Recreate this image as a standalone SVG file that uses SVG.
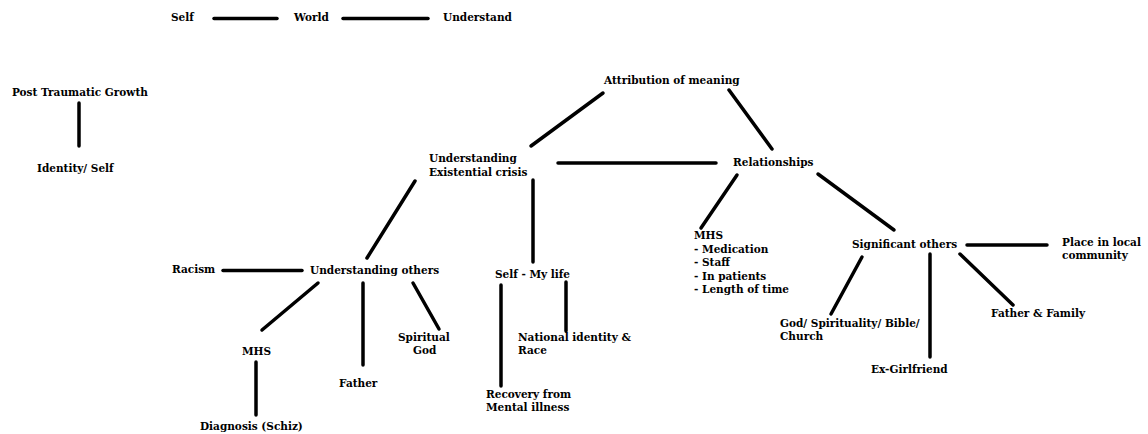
<svg xmlns="http://www.w3.org/2000/svg" width="1148" height="434" viewBox="0 0 1148 434">
<style>
text{font-family:"DejaVu Serif","Liberation Serif",serif;font-weight:bold;font-size:10.5px;fill:#000}
.c line{stroke:#000;stroke-width:3.5;stroke-linecap:round}
</style>
<rect width="1148" height="434" fill="#fff"/>
<g class="c" id="connectors">
<line x1="214" y1="18.5" x2="277" y2="18.5"/>
<line x1="343" y1="18.5" x2="428" y2="18.5"/>
<line x1="79" y1="103" x2="79" y2="146"/>
<line x1="603" y1="93" x2="531" y2="146"/>
<line x1="729" y1="90" x2="772" y2="149"/>
<line x1="558" y1="163" x2="716" y2="163"/>
<line x1="737" y1="175" x2="701" y2="228"/>
<line x1="818" y1="174" x2="894" y2="230"/>
<line x1="967" y1="245" x2="1047" y2="245"/>
<line x1="862" y1="257" x2="831" y2="314"/>
<line x1="930" y1="254" x2="930" y2="357"/>
<line x1="960" y1="254" x2="1013" y2="305"/>
<line x1="415" y1="181" x2="367" y2="258"/>
<line x1="533" y1="180" x2="533" y2="262"/>
<line x1="223" y1="270.5" x2="302" y2="270.5"/>
<line x1="318" y1="283" x2="262" y2="330"/>
<line x1="363" y1="283" x2="363" y2="365"/>
<line x1="413" y1="283" x2="439" y2="329"/>
<line x1="256" y1="362" x2="256" y2="415"/>
<line x1="501" y1="285" x2="501" y2="386"/>
<line x1="566" y1="282" x2="566" y2="331"/>
</g>
<g id="self"><text x="171" y="21">Self</text></g>
<g id="world"><text x="294" y="21">World</text></g>
<g id="understand"><text x="443" y="21">Understand</text></g>
<g id="ptg"><text x="12" y="96">Post Traumatic Growth</text></g>
<g id="identity"><text x="37" y="172">Identity/ Self</text></g>
<g id="attribution"><text x="604" y="84">Attribution of meaning</text></g>
<g id="existential"><text x="429" y="162">Understanding</text><text x="429" y="176">Existential crisis</text></g>
<g id="relationships"><text x="733" y="166">Relationships</text></g>
<g id="mhs2"><text x="694" y="239">MHS</text><text x="694" y="253">- Medication</text><text x="694" y="266">- Staff</text><text x="694" y="280">- In patients</text><text x="694" y="293">- Length of time</text></g>
<g id="significant"><text x="852" y="248">Significant others</text></g>
<g id="place"><text x="1062" y="246">Place in local</text><text x="1062" y="259">community</text></g>
<g id="god2"><text x="780" y="327">God/ Spirituality/ Bible/</text><text x="780" y="340">Church</text></g>
<g id="exgf"><text x="871" y="373">Ex-Girlfriend</text></g>
<g id="fatherfamily"><text x="991" y="317">Father &amp; Family</text></g>
<g id="others"><text x="310" y="274">Understanding others</text></g>
<g id="racism"><text x="172" y="273">Racism</text></g>
<g id="mylife"><text x="495" y="278">Self - My life</text></g>
<g id="mhs1"><text x="242" y="355">MHS</text></g>
<g id="diagnosis"><text x="200" y="430">Diagnosis (Schiz)</text></g>
<g id="father"><text x="339" y="387">Father</text></g>
<g id="spiritual"><text x="398" y="341">Spiritual</text><text x="413" y="354">God</text></g>
<g id="national"><text x="518" y="341">National identity &amp;</text><text x="518" y="354">Race</text></g>
<g id="recovery"><text x="486" y="398">Recovery from</text><text x="486" y="411">Mental illness</text></g>
</svg>
